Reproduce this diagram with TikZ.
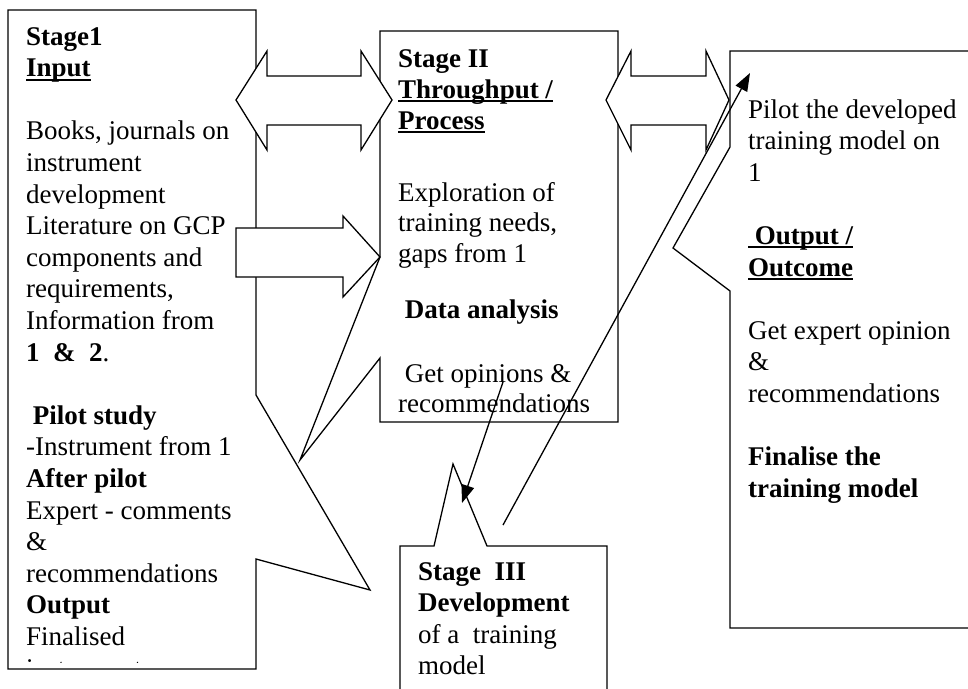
\documentclass[tikz,border=0pt]{standalone}
\usepackage{fontspec}
\setmainfont{Liberation Serif}
\usetikzlibrary{arrows.meta}
\newcommand{\ulbox}[1]{\setbox0=\hbox{#1}\rlap{\rule[-4pt]{\wd0}{2pt}}\box0}
\begin{document}
\begin{tikzpicture}[x=1pt,y=-1pt,
  boxshape/.style={draw=black, fill=white, line width=1.3pt, line join=miter},
  blockarrow/.style={draw=black, fill=white, line width=1.3pt, line join=miter},
  txt/.style={anchor=base west, inner sep=0pt, font=\fontsize{27}{31.6}\selectfont},
  conn/.style={draw=black, line width=1.3pt, -{Triangle[length=18pt,width=13pt]}}]
\useasboundingbox (0,0) rectangle (968,688);
\fill[white] (0,0) rectangle (968,688);
% boxes
\draw[boxshape] (8,10) -- (256,10) -- (256,395) -- (370,590) -- (256,559) -- (256,669) -- (8,669) -- cycle;
\draw[boxshape] (380,31) -- (618,31) -- (618,422) -- (380,422) -- (380,358) -- (300,460) -- (380,257) -- cycle;
\draw[boxshape] (730,51) -- (990,51) -- (990,628) -- (730,628) -- (730,291) -- (673,248) -- (730,147) -- cycle;
\draw[boxshape] (400,700) -- (400,546) -- (434,546) -- (453,464) -- (487,546) -- (607,546) -- (607,700);
% block arrows
\draw[blockarrow] (236,100) -- (267,51) -- (267,76) -- (361,76) -- (361,51) -- (392,100) -- (361,150) -- (361,125) -- (267,125) -- (267,150) -- cycle;
\draw[blockarrow] (606,100) -- (631,51) -- (631,76) -- (706,76) -- (706,51) -- (729,100) -- (706,150) -- (706,125) -- (631,125) -- (631,150) -- cycle;
\draw[blockarrow] (236,228) -- (343,228) -- (343,216) -- (380,257) -- (343,297) -- (343,277) -- (236,277) -- cycle;
% Stage 1 text
\node[txt] (s1a) at (26,45) {\bfseries Stage1};
\node[txt] (s1b) at (26,76.6) {\bfseries\ulbox{Input}};
\node[txt] (s1c) at (26,139.8) {Books, journals on};
\node[txt] (s1d) at (26,171.4) {instrument};
\node[txt] (s1e) at (26,203) {development};
\node[txt] (s1f) at (26,234.6) {Literature on GCP};
\node[txt] (s1g) at (26,266.2) {components and};
\node[txt] (s1h) at (26,297.8) {requirements,};
\node[txt] (s1i) at (26,329.4) {Information from};
\node[txt] (s1j) at (26,361) {\textbf{1\ \ \&\ \ 2}.};
\node[txt] (s1k) at (26,424.2) {\bfseries\ Pilot study};
\node[txt] (s1l) at (26,455.8) {-Instrument from 1};
\node[txt] (s1m) at (26,487.4) {\bfseries After pilot};
\node[txt] (s1n) at (26,519) {Expert - comments};
\node[txt] (s1o) at (26,550.6) {\&};
\node[txt] (s1p) at (26,582.2) {recommendations};
\node[txt] (s1q) at (26,613.8) {\bfseries Output};
\node[txt] (s1r) at (26,645.4) {Finalised};
\begin{scope}
  \clip (10,600) rectangle (254,662);
  \node[txt] (s1s) at (26,677) {instrument};
\end{scope}
% Stage 2 text
\node[txt] (s2a) at (398,67.5) {\bfseries Stage II};
\node[txt] (s2b) at (398,98) {\bfseries\ulbox{Throughput /}};
\node[txt] (s2c) at (398,129) {\bfseries\ulbox{Process}};
\node[txt] (s2d) at (398,201) {Exploration of};
\node[txt] (s2e) at (398,231.5) {training needs,};
\node[txt] (s2f) at (398,262) {gaps from 1};
\node[txt] (s2g) at (398,318) {\bfseries\ Data analysis};
\node[txt] (s2h) at (398,382) {\ Get opinions \&};
\node[txt] (s2i) at (398,412) {recommendations};
% Right box text
\node[txt] (s4a) at (748,118) {Pilot the developed};
\node[txt] (s4b) at (748,149.6) {training model on};
\node[txt] (s4c) at (748,181.2) {1};
\node[txt] (s4d) at (748,244.4) {\bfseries\ulbox{\ Output /}};
\node[txt] (s4e) at (748,276) {\bfseries\ulbox{Outcome}};
\node[txt] (s4f) at (748,339.2) {Get expert opinion};
\node[txt] (s4g) at (748,370.8) {\&};
\node[txt] (s4h) at (748,402.4) {recommendations};
\node[txt] (s4i) at (748,465.6) {\bfseries Finalise the};
\node[txt] (s4j) at (748,497.2) {\bfseries training model};
% Stage 3 text
\node[txt] (s3a) at (418,580) {\bfseries Stage\ \ III};
\node[txt] (s3b) at (418,611.6) {\bfseries Development};
\node[txt] (s3c) at (418,643.2) {of a\ \ training};
\node[txt] (s3d) at (418,674.8) {model};
% connectors
\coordinate (aAs) at (503,525);
\coordinate (aAe) at (750,73);
\coordinate (aBs) at (503,382);
\coordinate (aBe) at (462,503);
\draw[conn] (aAs) -- (aAe);
\draw[conn] (aBs) -- (aBe);
\end{tikzpicture}
\end{document}
